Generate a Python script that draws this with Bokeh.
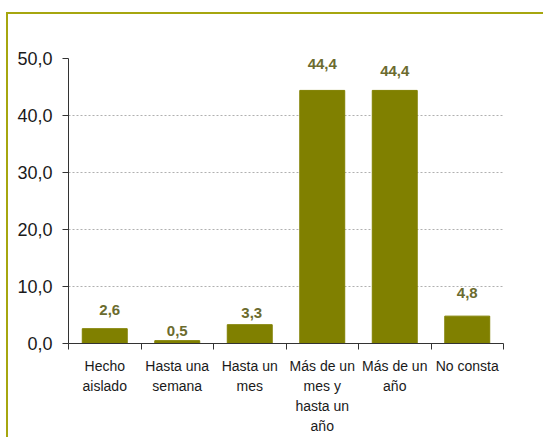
from bokeh.plotting import figure
from bokeh.models import ColumnDataSource, FixedTicker, Range1d, LabelSet
from bokeh.core.properties import value
from bokeh.embed import file_html
from bokeh.resources import INLINE

# ---- data ----
categories = ["Hecho\naislado", "Hasta una\nsemana", "Hasta un\nmes",
              "Más de un\nmes y\nhasta un\naño", "Más de un\naño", "No consta"]
values = [2.6, 0.5, 3.3, 44.4, 44.4, 4.8]
y_ticks = [0, 10, 20, 30, 40, 50]
y_tick_labels = ["0,0", "10,0", "20,0", "30,0", "40,0", "50,0"]
value_labels = ["2,6", "0,5", "3,3", "44,4", "44,4", "4,8"]

# ---- style (label nudges in screen px, as placed in the original) ----
label_dy = [14, 5, 7, 21, 14, 18]
label_dx = [5, 0, 2, 0, 0, 0]

BAR = "#808000"
LABEL = "#6b6b2e"
FONT = "Liberation Sans"
FRAME = "#a6a60f"

xs = [i + 0.5 for i in range(len(categories))]
src = ColumnDataSource(dict(x=xs, top=values, text=value_labels,
                            yo=list(label_dy), xo=list(label_dx)))

p = figure(width=537, height=425, output_backend="svg", toolbar_location=None,
           x_range=Range1d(0, len(categories)), y_range=Range1d(0, 50),
           min_border_left=60, min_border_right=42, min_border_top=44,
           min_border_bottom=96)
p.styles = {"border-left": f"2px solid {FRAME}", "border-top": f"2px solid {FRAME}",
            "margin-left": "6px", "margin-top": "12px"}
p.outline_line_color = None
p.background_fill_color = "white"
p.border_fill_color = "white"

p.vbar(x="x", top="top", width=0.62, source=src, fill_color=BAR, line_color=BAR)

labels = LabelSet(x="x", y="top", text="text", source=src, x_offset="xo", y_offset="yo",
                  text_align="center", text_baseline="alphabetic",
                  text_font=value(FONT), text_font_size="15px", text_font_style="bold",
                  text_color=LABEL)
p.add_layout(labels)

# x axis: labels at centres, tick marks at boundaries
xa = p.xaxis[0]
xa.ticker = FixedTicker(ticks=xs, minor_ticks=list(range(len(categories) + 1)))
xa.major_label_overrides = {x: c for x, c in zip(xs, categories)}
xa.major_tick_out = 0
xa.major_tick_in = 0
xa.minor_tick_out = 6
xa.minor_tick_in = 0
xa.axis_line_color = "#333333"
xa.minor_tick_line_color = "#333333"
xa.major_label_text_font = FONT
xa.major_label_text_font_size = "14px"
xa.major_label_text_color = "#1a1a1a"
xa.major_label_text_line_height = 1.27
xa.major_label_standoff = 8

ya = p.yaxis[0]
ya.ticker = FixedTicker(ticks=y_ticks)
ya.major_label_overrides = {t: l for t, l in zip(y_ticks, y_tick_labels)}
ya.major_tick_out = 6
ya.major_tick_in = 0
ya.minor_tick_line_color = None
ya.axis_line_color = "#333333"
ya.major_tick_line_color = "#333333"
ya.major_label_text_font = FONT
ya.major_label_text_font_size = "18px"
ya.major_label_text_color = "#1a1a1a"
ya.major_label_standoff = 10

p.xgrid.visible = False
p.ygrid.ticker = FixedTicker(ticks=y_ticks[1:])
p.ygrid.grid_line_color = "#b0b0b0"
p.ygrid.grid_line_dash = "2 2"
p.ygrid.grid_line_width = 1

open("out.html", "w").write(file_html(p, INLINE))
